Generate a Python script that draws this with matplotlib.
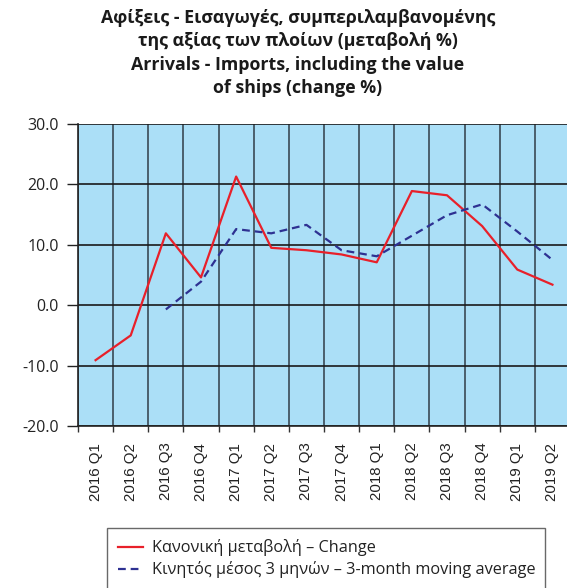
import matplotlib
matplotlib.use("Agg")
import matplotlib.pyplot as plt
import numpy as np

categories = ["2016 Q1", "2016 Q2", "2016 Q3", "2016 Q4", "2017 Q1", "2017 Q2", "2017 Q3",
              "2017 Q4", "2018 Q1", "2018 Q2", "2018 Q3", "2018 Q4", "2019 Q1", "2019 Q2"]
change = [-9.1, -5.0, 11.9, 4.6, 21.3, 9.5, 9.1, 8.4, 7.1, 18.9, 18.2, 13.1, 5.9, 3.4]
moving_avg = [np.nan, np.nan, -0.7, 3.9, 12.6, 11.9, 13.3, 9.1, 8.1, 11.5, 14.9, 16.7, 12.2, 7.5]
yticks = [-20, -10, 0, 10, 20, 30]

title = ("Αφίξεις - Εισαγωγές, συμπεριλαμβανομένης\nτης αξίας των πλοίων (μεταβολή %)\n"
         "Arrivals - Imports, including the value\nof ships (change %)")
label_change = "Κανονική μεταβολή – Change"
label_avg = "Κινητός μέσος 3 μηνών – 3-month moving average"

W, H = 567, 588
fig = plt.figure(figsize=(W / 100, H / 100), dpi=100)
fig.patch.set_facecolor("white")

ax = fig.add_axes([78 / W, 1 - 426 / H, (570 - 78) / W, (426 - 124) / H])
ax.set_facecolor("#ABDFF7")

x = np.arange(len(categories))
ax.plot(x, change, color="#E8202A", lw=1.6, label=label_change, zorder=3)
ax.plot(x, moving_avg, color="#2E3192", lw=1.6, ls=(0, (3.5, 2.2)), label=label_avg, zorder=3)

ax.set_xlim(-0.5, len(categories) - 0.5)
ax.set_ylim(-20, 30)
ax.set_yticks(yticks)
ax.set_yticklabels([f"{v:.1f}" for v in yticks], fontfamily="Open Sans", fontsize=11.5, color="#222222")
ax.set_xticks(x)
ax.set_xticklabels(categories, rotation=90, fontfamily="Liberation Sans", fontsize=10.8, color="#222222")
ax.set_xticks(np.arange(-0.5, len(categories)), minor=True)
ax.tick_params(axis="x", which="major", length=0, pad=12)
ax.tick_params(axis="x", which="minor", length=4, color="#333333", width=1)
ax.tick_params(axis="y", length=8, color="#222222", width=1, pad=6)

for b in np.arange(-0.5, len(categories)):
    ax.axvline(b, color="#3a4a55", lw=1.2, zorder=1)
for v in yticks:
    ax.axhline(v, color="#1a1a1a", lw=1.2, zorder=1)

for s in ["top", "right"]:
    ax.spines[s].set_visible(False)
ax.spines["left"].set_color("#222222")
ax.spines["bottom"].set_color("#222222")
ax.spines["left"].set_linewidth(1.2)
ax.spines["bottom"].set_linewidth(1.2)

fig.text(298 / W, 1 - 9 / H, title, ha="center", va="top", fontfamily="Open Sans",
         fontweight="bold", fontsize=12.8, linespacing=1.38, color="#1a1a1a")

leg = fig.legend(loc="upper left", bbox_to_anchor=(107 / W, 1 - 534 / H, (545 - 107) / W, 0.01),
                 mode="expand", frameon=True, fancybox=False, prop={"family": "Open Sans", "size": 11.7},
                 handlelength=1.5, handletextpad=0.6, borderpad=0.7, labelspacing=0.3, borderaxespad=0)
leg.get_frame().set_edgecolor("#444444")
leg.get_frame().set_linewidth(1.0)
for t in leg.get_texts():
    t.set_color("#222222")

fig.savefig("out.png", dpi=100)
